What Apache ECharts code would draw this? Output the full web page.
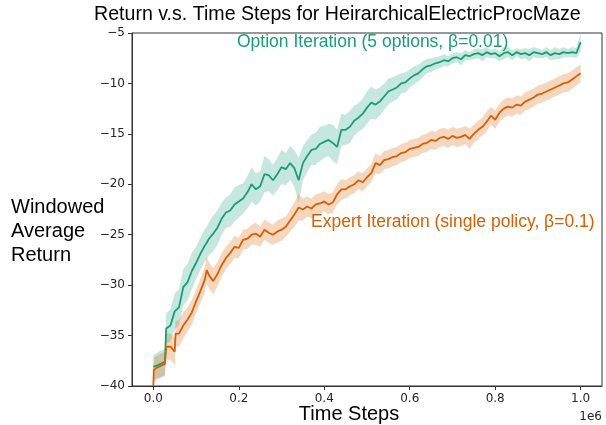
<!DOCTYPE html>
<html><head><meta charset="utf-8">
<script src="https://cdn.jsdelivr.net/npm/echarts@6/dist/echarts.min.js"></script>
<style>html,body{margin:0;padding:0;background:#fff}#c{width:606px;height:425px}</style>
</head><body><div id="c"></div>
<script>
// Time steps (×1e6)
const steps = [0, 0.001, 0.012, 0.027, 0.03, 0.04, 0.05, 0.052, 0.06, 0.07, 0.08, 0.09, 0.10, 0.11, 0.12, 0.125,
  0.13, 0.14, 0.15, 0.16, 0.17, 0.18, 0.19, 0.20,
  0.21, 0.22, 0.23, 0.24, 0.25, 0.26, 0.27, 0.28, 0.29, 0.30,
  0.31, 0.32, 0.33, 0.34, 0.35, 0.36, 0.37, 0.38, 0.39, 0.40,
  0.41, 0.42, 0.43, 0.44, 0.45, 0.46, 0.47, 0.48, 0.49, 0.50,
  0.51, 0.52, 0.53, 0.54, 0.55, 0.56, 0.57, 0.58, 0.59, 0.60,
  0.61, 0.62, 0.63, 0.64, 0.65, 0.66, 0.67, 0.68, 0.69, 0.70,
  0.71, 0.72, 0.73, 0.74, 0.75, 0.76, 0.77, 0.78, 0.79, 0.80,
  0.81, 0.82, 0.83, 0.84, 0.85, 0.86, 0.87, 0.88, 0.89, 0.90,
  0.91, 0.92, 0.93, 0.94, 0.95, 0.96, 0.97, 0.98, 0.99, 1.00];

// Option Iteration (5 options, β=0.01)
const optionMean = [-38.1, -38.1, -37.9, -37.6, -34.3, -34.0, -32.6, -32.5, -32.2, -30.2, -29.7, -28.6, -27.8, -26.9, -26.1, -25.8,
  -25.4, -24.9, -24.3, -23.4, -22.8, -22.6, -22.0, -21.7,
  -21.4, -20.8, -20.0, -20.5, -20.2, -19.0, -19.1, -19.6, -19.0, -18.3,
  -18.5, -17.9, -18.4, -19.6, -17.9, -17.2, -16.6, -16.5, -16.0, -15.8,
  -15.6, -15.9, -16.3, -14.6, -14.6, -14.3, -13.7, -13.4, -13.0, -12.4,
  -11.9, -12.1, -11.8, -11.3, -10.8, -10.6, -10.4, -10.0, -9.9, -9.5,
  -9.2, -9.0, -8.6, -8.3, -8.2, -8.0, -7.9, -7.7, -7.8, -7.5,
  -7.4, -7.6, -7.2, -7.3, -7.1, -7.0, -7.2, -6.9, -7.1, -7.0,
  -7.3, -7.0, -6.9, -7.2, -6.9, -7.1, -7.0, -7.2, -6.9, -7.0,
  -7.1, -6.9, -7.2, -7.0, -7.1, -6.9, -7.0, -6.9, -7.0, -5.9];
const optionSpread = [1.2, 1.2, 1.3, 1.3, 1.5, 1.6, 1.8, 1.8, 1.8, 1.8, 1.8, 1.8, 1.6, 1.6, 1.6, 1.6,
  1.6, 1.8, 1.7, 1.6, 1.5, 1.6, 1.7, 1.6,
  1.5, 1.6, 1.7, 1.6, 1.5, 1.8, 1.6, 1.5, 1.6, 1.7,
  1.6, 1.7, 1.8, 2.2, 1.7, 1.6, 1.5, 1.6, 1.7, 1.6,
  1.6, 1.8, 1.7, 1.6, 1.5, 1.6, 1.5, 1.4, 1.5, 1.6,
  1.6, 1.5, 1.4, 1.3, 1.3, 1.2, 1.2, 1.0, 1.0, 0.9,
  0.9, 0.8, 0.8, 0.7, 0.7, 0.6, 0.6, 0.6, 0.5, 0.5,
  0.5, 0.6, 0.5, 0.4, 0.5, 0.5, 0.6, 0.5, 0.4, 0.5,
  0.5, 0.6, 0.5, 0.5, 0.4, 0.5, 0.5, 0.6, 0.5, 0.5,
  0.4, 0.5, 0.5, 0.6, 0.5, 0.5, 0.4, 0.5, 0.5, 0.9];

// Expert Iteration (single policy, β=0.1)
const expertMean = [-40.0, -38.4, -38.1, -37.8, -36.1, -36.1, -36.6, -34.8, -34.8, -34.0, -33.4, -32.7, -31.6, -30.6, -29.5, -28.5,
  -29.0, -29.6, -28.9, -28.0, -27.3, -26.8, -26.2, -26.3,
  -25.5, -25.4, -25.0, -24.9, -25.2, -24.5, -24.8, -25.0, -24.7, -24.5,
  -24.2, -23.6, -23.0, -22.3, -22.5, -22.2, -22.4, -22.0, -21.9, -21.7,
  -22.0, -21.8, -21.0, -20.5, -20.5, -20.2, -20.0, -19.6, -19.8, -19.3,
  -18.9, -17.9, -18.1, -17.6, -17.5, -17.3, -17.2, -16.9, -16.8, -16.5,
  -16.4, -16.3, -16.0, -15.9, -15.6, -15.7, -15.4, -15.3, -15.5, -15.2,
  -15.4, -15.3, -15.1, -15.5, -15.0, -14.6, -14.3, -13.8, -13.2, -13.6,
  -12.9, -12.5, -12.3, -12.4, -12.1, -12.2, -11.8, -11.6, -11.4, -11.1,
  -11.0, -10.8, -10.6, -10.4, -10.2, -10.0, -9.9, -9.6, -9.3, -9.0];
const expertSpread = [1.2, 1.2, 1.2, 1.2, 1.3, 1.3, 1.3, 1.3, 1.3, 1.3, 1.2, 1.2, 1.2, 1.2, 1.3, 1.3,
  1.3, 1.3, 1.2, 1.2, 1.1, 1.1, 1.1, 1.0,
  1.0, 1.0, 1.0, 1.1, 1.0, 1.0, 1.0, 1.0, 1.1, 1.1,
  1.0, 1.1, 1.2, 1.3, 1.1, 1.0, 1.0, 1.0, 1.0, 1.0,
  1.0, 1.0, 1.0, 1.0, 0.9, 0.9, 0.9, 0.9, 0.9, 0.9,
  0.9, 1.0, 0.9, 0.9, 0.9, 0.9, 0.9, 0.9, 0.9, 0.9,
  0.9, 0.9, 0.9, 0.9, 0.9, 0.9, 0.9, 0.9, 0.9, 0.9,
  0.9, 0.9, 0.9, 1.0, 0.9, 0.9, 0.9, 1.0, 0.9, 0.9,
  0.9, 0.9, 0.9, 0.9, 0.9, 0.9, 0.9, 0.9, 0.9, 0.9,
  0.9, 0.9, 0.9, 0.9, 0.9, 0.9, 0.9, 0.9, 0.9, 0.9];

const xTicks = [0, 0.2, 0.4, 0.6, 0.8, 1.0];
const yTicks = [-40, -35, -30, -25, -20, -15, -10, -5];

const titleText = 'Return v.s. Time Steps for HeirarchicalElectricProcMaze';
const xLabelText = 'Time Steps';
const yLabelText = 'Windowed\nAverage\nReturn';
const optionLabel = 'Option Iteration (5 options, β=0.01)';
const expertLabel = 'Expert Iteration (single policy, β=0.1)';
const offsetText = '1e6';

const GREEN = '#1b9e77';
const ORANGE = '#d95f02';
const SANS = '"Liberation Sans", Arial, sans-serif';
const TICKFONT = '"DejaVu Sans", sans-serif';

function bandData(mean, spread) {
  return steps.map((x, i) => [x, mean[i] - spread[i], mean[i] + spread[i]]);
}
function bandSeries(data, color) {
  return {
    type: 'custom', data: data, encode: { x: 0, y: [1, 2] }, clip: true, silent: true, z: 1,
    renderItem: function (params, api) {
      if (params.dataIndex !== 0) return null;
      const upper = data.map(d => api.coord([d[0], d[2]]));
      const lower = data.map(d => api.coord([d[0], d[1]])).reverse();
      return { type: 'polygon', shape: { points: upper.concat(lower) }, style: { fill: color } };
    }
  };
}
function lineSeries(mean, color) {
  return {
    type: 'line', data: steps.map((x, i) => [x, mean[i]]), showSymbol: false, z: 3,
    lineStyle: { color: color, width: 1.8 }, itemStyle: { color: color }, silent: true
  };
}

const chart = echarts.init(document.getElementById('c'), null, { renderer: 'canvas' });
chart.setOption({
  animation: false,
  backgroundColor: '#fff',
  grid: { left: 132, right: 4, top: 33, bottom: 39, show: true, borderColor: '#333', borderWidth: 1, backgroundColor: 'transparent' },
  xAxis: {
    type: 'value', min: -0.05, max: 1.05,
    axisLine: { show: true, onZero: false, lineStyle: { color: '#333', width: 1 } },
    axisTick: { show: true, customValues: xTicks, length: 4, lineStyle: { color: '#333' } },
    axisLabel: { customValues: xTicks, formatter: v => v.toFixed(1), fontFamily: TICKFONT, fontSize: 12, color: '#262626', margin: 7 },
    splitLine: { show: false }
  },
  yAxis: {
    type: 'value', min: -40, max: -5, interval: 5,
    axisLine: { show: true, onZero: false, lineStyle: { color: '#333', width: 1 } },
    axisTick: { show: true, customValues: yTicks, length: 4, lineStyle: { color: '#333' } },
    axisLabel: { customValues: yTicks, formatter: v => String(v).replace('-', '\u2212'), fontFamily: TICKFONT, fontSize: 12, color: '#262626', margin: 7 },
    splitLine: { show: false }
  },
  series: [
    bandSeries(bandData(optionMean, optionSpread), 'rgba(27,158,119,0.25)'),
    bandSeries(bandData(expertMean, expertSpread), 'rgba(217,95,2,0.25)'),
    lineSeries(optionMean, GREEN),
    lineSeries(expertMean, ORANGE)
  ],
  graphic: [
    { type: 'text', left: 94, top: 5, style: { text: titleText, fontFamily: SANS, fontSize: 19.6, fill: '#000' } },
    { type: 'text', x: 11, y: 195, style: { text: yLabelText, fontFamily: SANS, fontSize: 20, lineHeight: 24, fill: '#000', textAlign: 'left', textVerticalAlign: 'top' } },
    { type: 'text', x: 349, y: 414, style: { text: xLabelText, fontFamily: SANS, fontSize: 20, fill: '#000', textAlign: 'center', textVerticalAlign: 'middle' } },
    { type: 'text', x: 237, y: 42, z: 10, style: { text: optionLabel, fontFamily: SANS, fontSize: 17.5, fill: GREEN, textAlign: 'left', textVerticalAlign: 'middle' } },
    { type: 'text', x: 311, y: 222, z: 10, style: { text: expertLabel, fontFamily: SANS, fontSize: 17.5, fill: ORANGE, textAlign: 'left', textVerticalAlign: 'middle' } },
    { type: 'text', x: 602, y: 417, style: { text: offsetText, fontFamily: TICKFONT, fontSize: 12, fill: '#262626', textAlign: 'right', textVerticalAlign: 'middle' } }
  ]
});
</script>
</body></html>
